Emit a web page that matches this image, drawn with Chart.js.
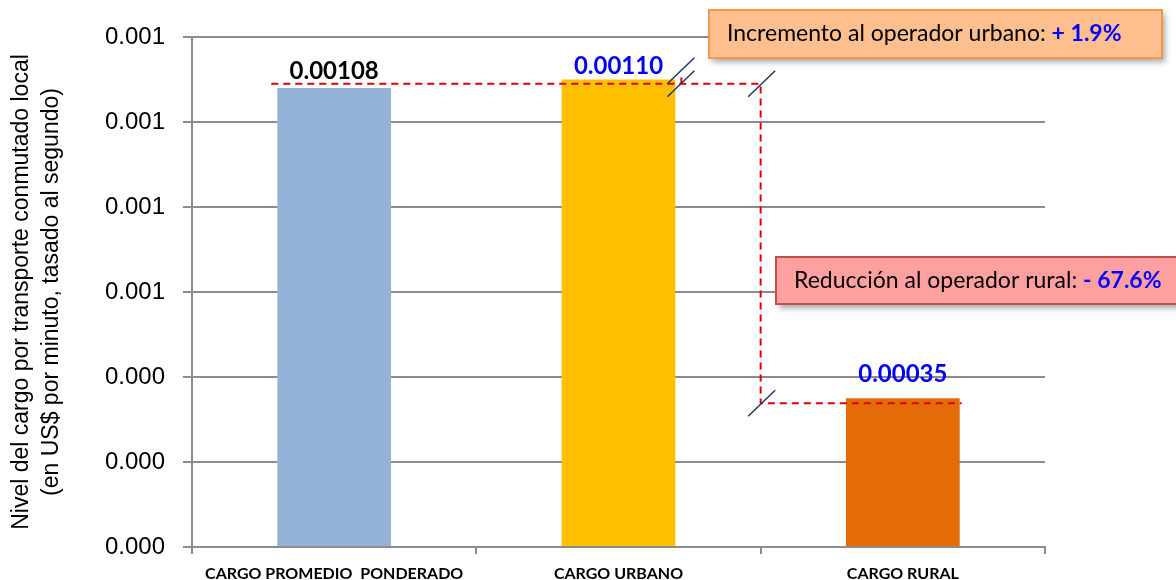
<!DOCTYPE html>
<html>
<head>
    <title>Cargo por transporte conmutado local</title>
    <script src='https://cdn.jsdelivr.net/npm/chart.js'></script>
    <style>
        html, body { margin: 0; padding: 0; background: #fff; }
        #wrap { width: 1176px; height: 580px; position: relative; }
    </style>
</head>
<body>
    <div id="wrap"><canvas id="cargoChart"></canvas></div>
    <script>
        // data
        const categories = ['CARGO PROMEDIO  PONDERADO', 'CARGO URBANO', 'CARGO RURAL'];
        const cargoValues = [0.00108, 0.00110, 0.00035];
        const yTicks = [0, 0.0002, 0.0004, 0.0006, 0.0008, 0.0010, 0.0012];
        const yTitle = ['Nivel del cargo por transporte conmutado local', '(en US$ por minuto, tasado al segundo)'];
        const urbanNote = ['Incremento al operador urbano: ', '+ 1.9%'];
        const ruralNote = ['Reducción al operador rural: ', '- 67.6%'];

        const barColors = ['#95B3D7', '#FFC000', '#E36C09'];
        const labelColors = ['#000000', '#0000FF', '#0000FF'];
        const labelGaps = [9, 6, 16];
        const gridGray = '#8C8C8C';
        const boxFont = '"Lato", sans-serif';

        // value labels over the bars
        const valueLabels = {
            id: 'valueLabels',
            afterDatasetsDraw(chart) {
                const ctx = chart.ctx;
                const meta = chart.getDatasetMeta(0);
                ctx.save();
                ctx.font = 'bold 24px ' + boxFont;
                ctx.textAlign = 'center';
                ctx.textBaseline = 'alphabetic';
                meta.data.forEach((bar, i) => {
                    ctx.fillStyle = labelColors[i];
                    ctx.fillText(cargoValues[i].toFixed(5), bar.x, bar.y - labelGaps[i]);
                });
                ctx.restore();
            }
        };

        function drawNote(ctx, parts, x, y, w, h, fill, stroke) {
            ctx.save();
            ctx.shadowColor = 'rgba(0,0,0,0.35)';
            ctx.shadowBlur = 6;
            ctx.shadowOffsetX = 3;
            ctx.shadowOffsetY = 4;
            ctx.fillStyle = fill;
            ctx.fillRect(x, y, w, h);
            ctx.restore();
            ctx.save();
            ctx.strokeStyle = stroke;
            ctx.lineWidth = 2;
            ctx.strokeRect(x, y, w, h);
            ctx.textBaseline = 'middle';
            ctx.textAlign = 'left';
            ctx.font = '23px ' + boxFont;
            ctx.fillStyle = '#000';
            ctx.fillText(parts[0], x + 18, y + h / 2);
            const w0 = ctx.measureText(parts[0]).width;
            ctx.font = 'bold 23px ' + boxFont;
            ctx.fillStyle = '#0000FF';
            ctx.fillText(parts[1], x + 18 + w0, y + h / 2);
            ctx.restore();
        }

        function slash(ctx, cx, cy) {
            ctx.beginPath();
            ctx.moveTo(cx - 13.5, cy + 13);
            ctx.lineTo(cx + 13.5, cy - 13);
            ctx.stroke();
        }

        // dashed guide lines, break marks and the two notes
        const notes = {
            id: 'notes',
            afterDraw(chart) {
                const ctx = chart.ctx;
                const bars = chart.getDatasetMeta(0).data;
                const xs = chart.scales.x;
                const area = chart.chartArea;
                const b1 = bars[0], b2 = bars[1], b3 = bars[2];
                const half1 = b1.width / 2, half3 = b3.width / 2;
                const topY = (b1.y + b2.y) / 2;
                const lowY = b3.y + 5;
                const splitX = (xs.getPixelForValue(1) + xs.getPixelForValue(2)) / 2;
                const b2Right = b2.x + b2.width / 2;

                ctx.save();
                ctx.strokeStyle = '#E00000';
                ctx.lineWidth = 2;
                ctx.setLineDash([7, 5]);
                ctx.beginPath();
                ctx.moveTo(b1.x - half1 - 6, topY);
                ctx.lineTo(splitX, topY);
                ctx.lineTo(splitX, lowY);
                ctx.lineTo(b3.x + half3 + 2, lowY);
                ctx.stroke();
                ctx.setLineDash([]);
                ctx.beginPath();
                ctx.moveTo(b2Right + 6, b2.y - 2);
                ctx.lineTo(b2Right + 6, topY);
                ctx.stroke();

                ctx.strokeStyle = '#1F3864';
                ctx.lineWidth = 1.5;
                slash(ctx, b2Right + 5.5, topY - 13);
                slash(ctx, b2Right + 5.5, topY);
                slash(ctx, splitX + 1, topY);
                slash(ctx, splitX + 1, lowY);
                ctx.restore();

                drawNote(ctx, urbanNote, area.left + 517, area.top - 27, 453, 48, '#FDBF8D', '#F79646');
                drawNote(ctx, ruralNote, area.left + 584, area.top + 220, 410, 47, '#FFA0A0', '#C0504D');
            }
        };

        new Chart(document.getElementById('cargoChart').getContext('2d'), {
            type: 'bar',
            data: {
                labels: categories,
                datasets: [{
                    data: cargoValues,
                    backgroundColor: barColors,
                    categoryPercentage: 1,
                    barPercentage: 0.4
                }]
            },
            options: {
                responsive: true,
                maintainAspectRatio: false,
                animation: false,
                layout: { padding: { top: 37, right: 131, left: 0, bottom: 0 } },
                plugins: {
                    legend: { display: false },
                    tooltip: { enabled: false }
                },
                scales: {
                    x: {
                        afterFit: (s) => { s.height = 33; },
                        grid: { drawOnChartArea: false, tickLength: 7, color: gridGray, lineWidth: 2, offset: true },
                        border: { color: gridGray, width: 2 },
                        ticks: {
                            color: '#000',
                            padding: 10,
                            maxRotation: 0,
                            font: { family: boxFont, size: 16, weight: 'bold' }
                        }
                    },
                    y: {
                        min: 0,
                        max: 0.0012,
                        afterFit: (s) => { s.width = 192; },
                        afterBuildTicks: (s) => { s.ticks = yTicks.map(v => ({ value: v })); },
                        grid: { color: gridGray, lineWidth: 2, tickLength: 9 },
                        border: { color: gridGray, width: 2 },
                        ticks: {
                            color: '#000',
                            padding: 18,
                            font: { family: '"Liberation Sans", Arial, sans-serif', size: 24 },
                            callback: (v) => Number(v).toFixed(3)
                        },
                        title: {
                            display: true,
                            text: yTitle,
                            color: '#000',
                            padding: { top: 7, bottom: 0 },
                            font: { family: '"Liberation Sans", Arial, sans-serif', size: 23, lineHeight: 1.3 }
                        }
                    }
                }
            },
            plugins: [valueLabels, notes]
        });
    </script>
</body>
</html>
